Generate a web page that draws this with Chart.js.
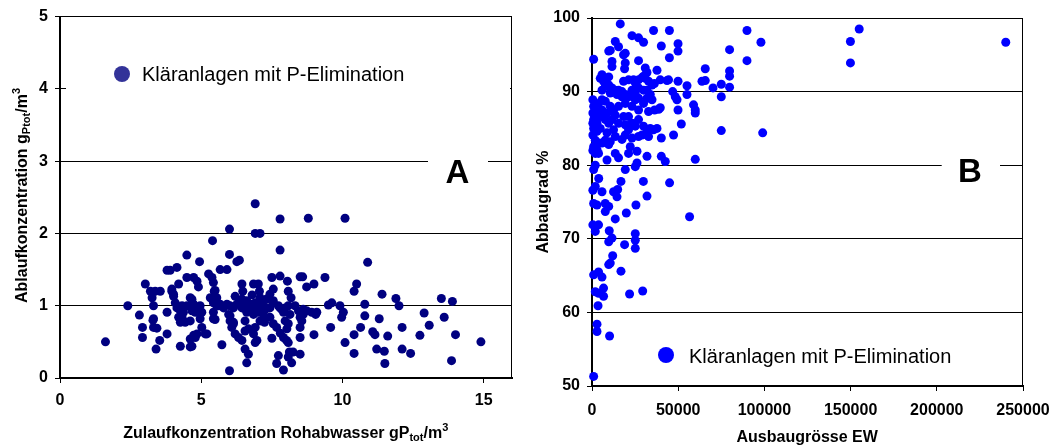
<!DOCTYPE html>
<html>
<head>
<meta charset="utf-8">
<script src="https://cdn.jsdelivr.net/npm/chart.js@4.4.1/dist/chart.umd.min.js"></script>
<style>
  body { margin: 0; background: #fff; }
  #wrap { position: relative; width: 1053px; height: 445px; }
  #chartA { position: absolute; left: 0; top: 0; }
  #chartB { position: absolute; left: 530px; top: 0; }
</style>
</head>
<body>
<div id="wrap">
  <canvas id="chartA" width="530" height="445"></canvas>
  <canvas id="chartB" width="523" height="445"></canvas>
</div>
<script>
// ---- data: panel A (Zulauf vs. Ablauf, g Ptot/m3) ----
const zulaufA = [
  1.61,2.40,2.81,2.92,2.92,3.02,3.20,3.37,3.55,3.26,3.31,3.31,3.31,3.53,3.40,
  3.79,3.90,4.14,3.79,3.79,3.96,4.02,4.08,4.14,4.26,4.37,4.20,4.20,4.26,4.26,
  4.43,4.32,4.49,4.49,4.73,4.85,4.90,4.49,4.67,4.73,4.96,5.02,4.79,4.61,4.61,
  4.73,4.67,4.85,5.02,5.20,4.96,4.94,5.26,5.38,5.43,5.46,5.40,5.55,5.61,5.79,
  5.91,5.43,5.43,5.49,5.73,5.67,5.91,6.00,6.00,6.02,6.14,6.08,6.20,6.32,6.44,
  6.00,6.26,6.35,6.44,6.47,6.44,6.44,6.61,6.73,6.55,6.67,6.85,6.97,6.91,7.08,
  7.20,7.38,7.55,6.55,6.67,6.61,6.91,6.91,7.08,6.85,7.02,7.06,7.08,7.08,7.20,
  7.02,6.85,7.43,7.55,7.50,7.79,7.79,7.79,7.79,7.91,7.97,7.67,7.91,8.03,7.73,
  7.67,7.91,8.08,8.05,8.08,8.18,8.32,8.50,8.59,8.73,8.99,9.38,8.79,10.09,8.61,
  8.91,9.09,8.14,8.08,8.50,8.56,8.50,8.50,8.12,8.25,8.50,8.20,8.08,8.99,9.50,
  9.62,9.91,10.03,9.97,9.58,10.09,10.41,10.41,10.50,10.41,10.79,10.79,10.89,10.64,11.07,
  11.15,11.30,11.40,11.60,11.21,11.48,11.50,11.89,12.00,12.11,12.11,12.41,12.74,12.89,13.07,
  13.50,13.60,13.89,14.00,13.86,14.90,7.24,5.32,5.43,5.55,5.67,6.02,6.14,6.26,6.38,
  6.49,6.61,6.73,6.91,6.97,7.14,7.26,7.43,7.55,7.73,7.85,7.97,8.08,5.97,6.02,
  6.14,7.43,7.55,7.80,8.02,4.61,4.73,4.67,4.90,5.14,4.79,4.61,3.29,3.43,5.49,
  4.32,3.96,4.02,6.55,6.91,7.50,8.44,8.61,8.73,9.05,6.20,6.80,7.30
];
const ablaufA = [
  0.50,1.00,0.87,0.70,0.56,1.30,1.20,1.20,1.20,1.11,1.00,0.82,0.70,0.52,0.40,
  1.49,1.49,1.53,0.91,0.61,1.23,1.13,1.04,0.97,0.93,0.91,0.84,1.30,0.44,0.77,
  0.77,0.84,1.70,1.39,1.39,1.34,1.26,1.00,1.09,0.97,1.00,0.91,0.91,0.79,0.54,
  0.59,0.44,0.61,0.70,0.61,0.82,1.61,1.44,1.39,1.32,1.20,1.90,1.11,1.00,0.97,
  1.02,0.91,0.82,0.81,0.46,1.50,1.50,2.06,1.71,0.86,0.77,0.70,0.61,0.56,0.52,
  0.10,1.61,1.63,1.30,1.20,1.09,0.97,0.91,0.97,0.79,0.68,0.61,0.52,0.70,0.79,
  0.88,0.97,1.04,0.40,0.33,0.21,2.41,2.00,2.00,1.30,1.30,1.20,1.11,1.04,1.00,
  0.91,0.88,1.16,1.23,1.39,1.41,2.20,1.77,0.97,0.91,0.79,0.70,0.56,0.68,0.31,
  0.20,0.11,0.29,1.34,1.20,1.11,1.00,1.40,1.40,1.26,1.30,1.39,2.21,2.21,0.95,
  0.91,0.91,0.88,0.75,0.84,0.79,0.70,0.56,0.36,0.36,0.33,0.21,0.49,0.60,1.01,
  1.04,1.00,0.91,0.84,0.70,0.49,0.60,0.34,1.30,1.20,1.02,0.86,1.60,0.70,0.64,
  0.60,0.82,1.16,0.58,0.40,0.37,0.20,1.10,1.00,0.70,0.40,0.34,0.59,0.90,0.73,
  1.10,0.84,1.06,0.60,0.24,0.50,0.77,1.11,1.04,1.00,1.02,1.00,0.97,1.02,1.07,
  1.04,1.07,1.02,1.04,0.97,1.00,0.95,0.97,1.07,1.00,0.95,0.97,1.00,0.88,0.79,
  0.75,0.84,0.75,0.62,0.52,1.11,1.02,0.93,0.91,0.61,0.56,0.43,0.80,0.69,1.21,
  1.00,1.20,1.16,0.65,0.49,0.55,0.93,0.88,0.93,0.88,1.13,1.15,1.09
];
const xTicksA = [0, 5, 10, 15];

// ---- data: panel B (Ausbaugrösse EW vs. Abbaugrad %) ----
const ausbauB = [
  16400,950,23200,27000,29900,35700,44900,13500,10600,9700,15400,19300,18300,40200,49900,
  49900,44900,27000,11600,11600,19300,18900,30900,31900,29900,37700,5800,4800,6700,7700,
  9700,11600,13500,15400,17400,14500,17400,19300,18300,21200,24100,25100,27000,29000,30900,
  32800,34800,27000,29900,31900,33800,34800,25100,23200,39600,44400,49900,55100,63800,65700,
  46800,48300,49300,55100,38700,39600,49900,58900,59900,59900,51800,47300,40200,59900,31900,
  40200,42500,26100,25100,13500,15400,8700,1900,950,500,950,500,1900,500,950,
  2900,500,1900,3800,950,2900,3800,5800,7700,5800,4800,7700,10600,12500,15400,
  19300,23200,25100,27000,21200,18300,15400,19300,23200,25100,27000,29900,31900,33800,35700,
  37700,32800,27000,23200,19300,13500,10600,7700,9700,5800,22200,21200,26100,31900,950,
  2900,7700,9700,7700,25500,19900,13500,56600,500,3800,1900,10000,11600,9700,25100,
  25100,25100,18900,12000,10600,9700,16800,950,3800,5800,1900,6700,6700,3800,21800,
  29400,3500,2900,2900,10200,950,500,5800,14500,12500,3900,16800,29800,19300,45000,
  14900,1900,89900,98000,79800,89900,65700,79800,79800,70200,75000,79800,75000,75000,99000,
  149900,149900,155000,240000,2900,3800,2900,4800,8700,9700,11600,13500,12500,8700,500,
  1900,950,17400,21200,29000,29900,31900,32800,36300,27000,21200,10600,5800,9700,36200,43500
];
const abbauB = [
  99.2,94.4,97.6,97.3,96.7,98.3,98.3,96.8,95.6,95.5,96.1,95.2,95.0,96.2,96.5,
  95.5,94.6,94.2,94.1,93.4,93.9,93.1,93.2,92.6,92.1,92.9,92.3,91.8,91.4,90.7,
  90.9,90.5,90.2,90.2,90.0,89.6,89.3,89.6,91.4,91.6,91.6,91.2,91.6,91.9,91.8,
  91.4,90.9,90.5,90.2,90.2,89.6,88.9,89.8,90.2,91.6,91.6,91.4,90.8,91.4,91.5,
  90.0,89.3,88.9,89.6,87.6,87.8,87.5,88.2,87.5,87.1,85.6,84.1,83.7,80.8,81.2,
  81.2,80.5,80.3,79.8,81.6,81.0,80.7,80.0,79.4,88.9,88.0,87.1,86.6,85.7,85.0,
  84.6,84.1,83.4,83.0,82.5,82.1,81.6,88.9,88.7,87.5,86.6,86.2,88.0,87.5,88.0,
  88.4,88.0,88.9,87.5,86.6,86.6,85.7,85.5,85.7,85.3,86.2,85.3,84.8,85.0,84.8,
  85.0,83.9,83.9,83.7,84.1,83.9,83.2,83.4,82.8,83.0,82.5,81.6,81.9,75.8,74.8,
  74.6,74.8,74.4,73.7,74.6,73.5,72.7,73.0,71.9,71.9,71.0,71.1,70.1,69.6,70.7,
  69.8,68.7,69.2,67.7,66.7,66.5,65.6,65.1,65.5,64.8,62.8,63.3,62.2,62.6,62.5,
  62.9,60.9,58.4,57.4,56.8,51.3,76.6,76.4,75.7,76.4,78.2,77.8,77.8,79.4,77.6,
  76.7,77.1,98.3,96.7,95.7,94.2,93.1,92.8,92.1,90.5,91.0,90.6,89.3,84.7,84.4,
  96.8,93.9,98.5,96.7,87.3,88.4,85.7,85.0,87.1,85.7,86.2,86.8,84.8,84.4,82.0,
  81.6,86.2,83.5,84.8,84.1,88.4,89.1,87.3,87.5,89.1,89.3,89.8,90.2,92.0,91.1,91.5
];

const legendLabel = 'Kläranlagen mit P-Elimination';
const FONT = "'Liberation Sans', Arial, sans-serif";

// text with sub/superscript pieces: [text, size, dy]
function richText(ctx, parts, x, y, rotate) {
  ctx.save();
  ctx.translate(x, y);
  if (rotate) ctx.rotate(-Math.PI / 2);
  ctx.textAlign = 'left';
  ctx.textBaseline = 'alphabetic';
  ctx.fillStyle = '#000';
  let total = 0;
  parts.forEach(p => { ctx.font = `bold ${p[1]}px ${FONT}`; total += ctx.measureText(p[0]).width; });
  let cx = -total / 2;
  parts.forEach(p => {
    ctx.font = `bold ${p[1]}px ${FONT}`;
    ctx.fillText(p[0], cx, p[2]);
    cx += ctx.measureText(p[0]).width;
  });
  ctx.restore();
}

function decor(cfg) {
  return {
    id: 'decor',
    afterDraw(chart) {
      const ctx = chart.ctx, a = chart.chartArea;
      ctx.save();
      // right frame line
      ctx.strokeStyle = '#000';
      ctx.lineWidth = 1;
      ctx.beginPath();
      ctx.moveTo(a.right - 0.5, a.top);
      ctx.lineTo(a.right - 0.5, a.bottom);
      ctx.stroke();
      // white label boxes over grid
      ctx.fillStyle = '#fff';
      cfg.boxes.forEach(b => ctx.fillRect(b[0], b[1], b[2], b[3]));
      // legend
      ctx.fillStyle = cfg.dotColor;
      ctx.beginPath();
      ctx.arc(cfg.legend[0], cfg.legend[1], 8, 0, Math.PI * 2);
      ctx.fill();
      ctx.fillStyle = '#000';
      ctx.font = `20px ${FONT}`;
      ctx.textAlign = 'left';
      ctx.textBaseline = 'alphabetic';
      ctx.fillText(legendLabel, cfg.legend[2], cfg.legend[3]);
      // panel letter
      ctx.font = `bold 33px ${FONT}`;
      ctx.textAlign = 'center';
      ctx.fillText(cfg.letter, cfg.letterPos[0], cfg.letterPos[1]);
      ctx.restore();
      richText(ctx, cfg.xTitle, cfg.xTitlePos[0], cfg.xTitlePos[1], false);
      richText(ctx, cfg.yTitle, cfg.yTitlePos[0], cfg.yTitlePos[1], true);
    }
  };
}

const tickFont = { family: FONT, size: 16, weight: 'bold' };

function toPoints(xs, ys) {
  return xs.map((x, i) => ({ x: x, y: ys[i] }));
}

// ---------- Panel A ----------
new Chart(document.getElementById('chartA'), {
  type: 'scatter',
  data: {
    datasets: [{
      label: legendLabel,
      data: toPoints(zulaufA, ablaufA),
      backgroundColor: '#000080',
      borderWidth: 0,
      pointRadius: 4.5,
      clip: false
    }]
  },
  options: {
    responsive: false,
    animation: false,
    layout: { padding: { left: 0, right: 18, top: 13, bottom: 0 } },
    plugins: { legend: { display: false }, tooltip: { enabled: false } },
    scales: {
      x: {
        type: 'linear', min: 0, max: 16,
        afterBuildTicks: (s) => { s.ticks = xTicksA.map(v => ({ value: v })); },
        afterFit: (s) => { s.height = 67; s.paddingLeft = 0; s.paddingRight = 0; },
        border: { color: '#000', width: 2 },
        grid: { drawOnChartArea: false, color: '#000', tickLength: 5 },
        ticks: { color: '#000', font: tickFont, padding: 8, maxRotation: 0 }
      },
      y: {
        min: 0, max: 5,
        afterFit: (s) => { s.width = 60; },
        border: { color: '#000', width: 2 },
        grid: { color: '#000', lineWidth: 1, tickLength: 5 },
        ticks: { color: '#000', font: tickFont, stepSize: 1, padding: 7 }
      }
    }
  },
  plugins: [decor({
    boxes: [[66, 56, 444, 40], [428, 148, 60, 40]],
    dotColor: '#333399',
    legend: [122, 74, 142, 81],
    letter: 'A', letterPos: [457.5, 182.7],
    xTitle: [['Zulaufkonzentration Rohabwasser gP', 16, 0], ['tot', 11, 3], ['/m', 16, 0], ['3', 11, -7]],
    xTitlePos: [285.7, 437.5],
    yTitle: [['Ablaufkonzentration g', 16, 0], ['Ptot', 11, 3], ['/m', 16, 0], ['3', 11, -7]],
    yTitlePos: [26.5, 195.5]
  })]
});

// ---------- Panel B ----------
new Chart(document.getElementById('chartB'), {
  type: 'scatter',
  data: {
    datasets: [{
      label: legendLabel,
      data: toPoints(ausbauB, abbauB),
      backgroundColor: '#0000ff',
      borderWidth: 0,
      pointRadius: 4.5,
      clip: false
    }]
  },
  options: {
    responsive: false,
    animation: false,
    layout: { padding: { left: 0, right: 30, top: 18, bottom: 0 } },
    plugins: { legend: { display: false }, tooltip: { enabled: false } },
    scales: {
      x: {
        type: 'linear', min: 0, max: 250000,
        afterFit: (s) => { s.height = 59; s.paddingLeft = 0; s.paddingRight = 0; },
        border: { color: '#000', width: 2 },
        grid: { drawOnChartArea: false, color: '#000', tickLength: 5 },
        ticks: { color: '#000', font: tickFont, stepSize: 50000, padding: 10, maxRotation: 0,
                 autoSkip: false, callback: (v) => String(v) }
      },
      y: {
        min: 50, max: 100,
        afterFit: (s) => { s.width = 62; },
        border: { color: '#000', width: 2 },
        grid: { color: '#000', lineWidth: 1, tickLength: 5 },
        ticks: { color: '#000', font: tickFont, stepSize: 10, padding: 7 }
      }
    }
  },
  plugins: [decor({
    boxes: [[411.7, 148, 58.3, 40]],
    dotColor: '#0000ff',
    legend: [136, 355, 159, 362.7],
    letter: 'B', letterPos: [440, 181.7],
    xTitle: [['Ausbaugrösse EW', 16, 0]],
    xTitlePos: [277.2, 441.5],
    yTitle: [['Abbaugrad %', 16, 0]],
    yTitlePos: [18, 202]
  })]
});
</script>
</body>
</html>
